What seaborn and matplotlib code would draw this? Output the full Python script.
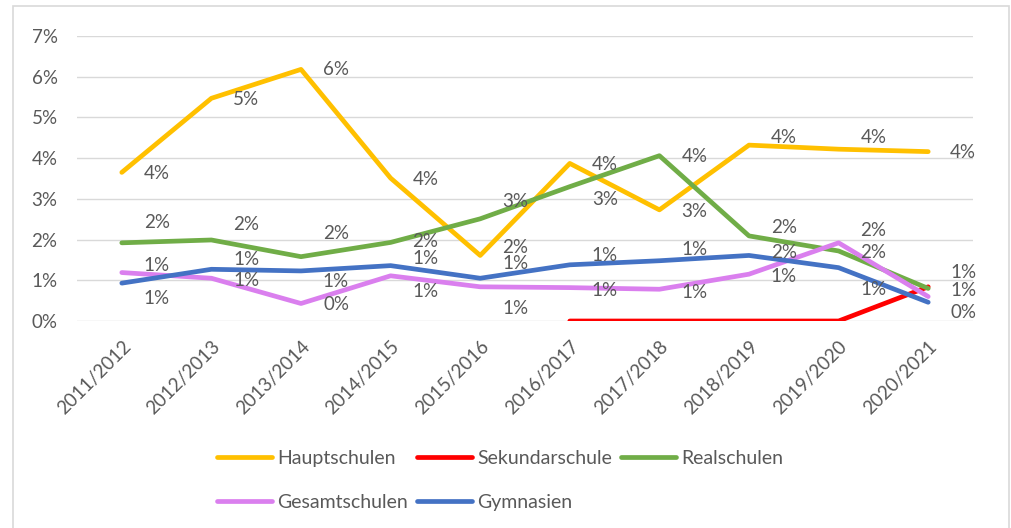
import numpy as np
import pandas as pd
import seaborn as sns
import matplotlib.pyplot as plt
from matplotlib.patches import Rectangle

# school years on the x axis
years = ['2011/2012', '2012/2013', '2013/2014', '2014/2015', '2015/2016',
         '2016/2017', '2017/2018', '2018/2019', '2019/2020', '2020/2021']

# values in percent
hauptschulen = [3.65, 5.47, 6.18, 3.51, 1.61, 3.87, 2.73, 4.32, 4.22, 4.16]
sekundarschule = [np.nan, np.nan, np.nan, np.nan, np.nan, 0.0, 0.0, 0.0, 0.0, 0.84]
realschulen = [1.92, 1.99, 1.58, 1.93, 2.51, 3.30, 4.06, 2.09, 1.72, 0.80]
gesamtschulen = [1.19, 1.05, 0.43, 1.11, 0.84, 0.82, 0.78, 1.15, 1.92, 0.60]
gymnasien = [0.93, 1.27, 1.23, 1.36, 1.05, 1.38, 1.48, 1.61, 1.31, 0.46]

series = {
    'Hauptschulen': hauptschulen,
    'Sekundarschule': sekundarschule,
    'Realschulen': realschulen,
    'Gesamtschulen': gesamtschulen,
    'Gymnasien': gymnasien,
}
colors = {
    'Hauptschulen': '#FFC000',
    'Sekundarschule': '#FF0000',
    'Realschulen': '#70AD47',
    'Gesamtschulen': '#DA7FEE',
    'Gymnasien': '#4472C4',
}
# vertical nudge of the data labels (pixels, down is positive), like in the original
label_nudge = {
    'Hauptschulen': [1, 1, 0, 1, -8, 1, 2, -8, -12, 1],
    'Realschulen': [-20, -15, -23, -1, -17, 13, 1, -8, 2, -16],
    'Gesamtschulen': [-7, 2, 1, 16, 22, 3, 3, 2, -12, -6],
    'Gymnasien': [15, -10, 11, -7, -15, -9, -11, -3, 22, 10],
}

rows = []
for name, vals in series.items():
    for i, v in enumerate(vals):
        rows.append({'pos': i, 'year': years[i], 'Schulform': name, 'value': v})
df = pd.DataFrame(rows)

text_col = '#595959'
fs = 13.5
plt.rcParams['font.family'] = ['Lato', 'DejaVu Sans']
plt.rcParams['font.size'] = fs

fig = plt.figure(figsize=(10.11, 5.28), dpi=100)
W, H = 1011, 528
ax = fig.add_axes([77 / W, 1 - 321 / H, 896 / W, 285 / H])

sns.lineplot(data=df, x='pos', y='value', hue='Schulform', palette=colors,
             hue_order=list(series.keys()), linewidth=3.4, ax=ax, legend=False,
             solid_capstyle='round')

# data labels
for name, nudges in label_nudge.items():
    for i, v in enumerate(series[name]):
        ax.annotate(f'{v:.0f}%', (i, v), xytext=(35, -nudges[i]),
                    textcoords='offset pixels', ha='center', va='center',
                    color=text_col, fontsize=fs)

ax.set_xlim(-0.5, 9.5)
ax.set_ylim(0, 7)
ax.set_yticks(range(0, 8))
ax.set_yticklabels([f'{t}%' for t in range(0, 8)])
ax.set_xticks(range(len(years)))
ax.set_xticklabels(years, rotation=45, ha='right', rotation_mode='anchor')
ax.tick_params(length=0, colors=text_col, labelsize=fs)
ax.tick_params(axis='y', pad=14)
ax.tick_params(axis='x', pad=12)
ax.grid(axis='y', color='#D9D9D9', linewidth=1)
ax.set_axisbelow(True)
for s in ax.spines.values():
    s.set_visible(False)
ax.set_xlabel('')
ax.set_ylabel('')

# legend: matplotlib fills columns first, so reorder to get rows H S R / G Gy
order = ['Hauptschulen', 'Gesamtschulen', 'Sekundarschule', 'Gymnasien', 'Realschulen']
handles = [plt.Line2D([], [], color=colors[n], linewidth=3.4, solid_capstyle='round')
           for n in order]
leg = fig.legend(handles, order, loc='upper left', bbox_to_anchor=(217 / W, 1 - 450 / H),
                 ncol=3, frameon=False, borderpad=0, borderaxespad=0,
                 handlelength=2.85, handletextpad=0.25, columnspacing=0.45,
                 labelspacing=1.4, fontsize=14)
for t in leg.get_texts():
    t.set_color(text_col)

# outer chart frame
fig.patches.append(Rectangle((13 / W, -0.05), (1009 - 13) / W, 1.05 - 6 / H,
                             transform=fig.transFigure, fill=False,
                             edgecolor='#D9D9D9', linewidth=1.2))

fig.savefig('out.png', dpi=100, facecolor='white')
